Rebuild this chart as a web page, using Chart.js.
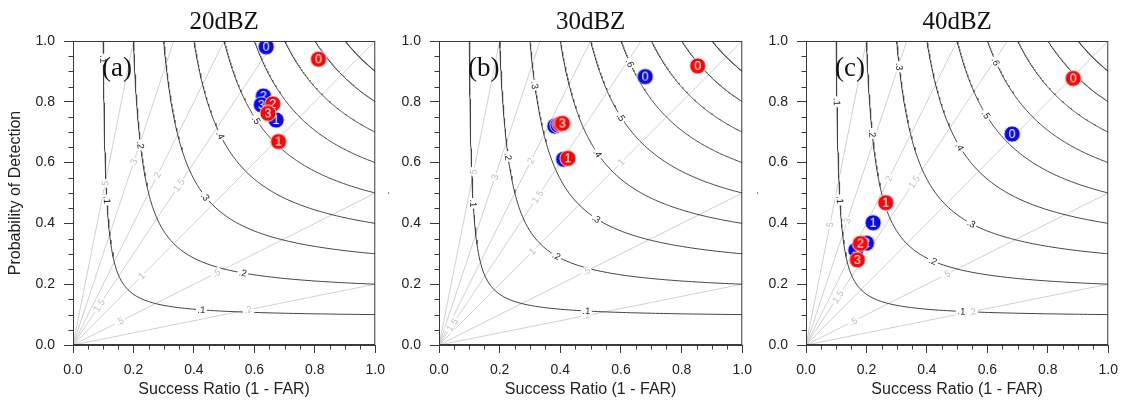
<!DOCTYPE html>
<html>
<head>
<meta charset="utf-8">
<script src="https://cdn.jsdelivr.net/npm/chart.js@4.4.1/dist/chart.umd.min.js"></script>
<style>
    html, body { margin: 0; padding: 0; background: #fff; }
    #wrap { position: relative; width: 1128px; height: 406px; overflow: hidden; }
    canvas { position: absolute; top: 0; display: block; }
</style>
</head>
<body>
<div id="wrap">
    <canvas id="chart-a" width="394" height="406" style="left:0px"></canvas>
    <canvas id="chart-b" width="385" height="406" style="left:376px"></canvas>
    <canvas id="chart-c" width="377" height="406" style="left:750px"></canvas>
</div>
<script>
// --- data ---
const panelTitles = ['20dBZ', '30dBZ', '40dBZ'];
const panelTags = ['(a)', '(b)', '(c)'];
const leadLabels = ['0', '1', '2', '3'];
const axisTicks = [0, 0.2, 0.4, 0.6, 0.8, 1.0];

// (a) 20dBZ
const blueSR_a  = [0.639, 0.672, 0.630, 0.623];
const bluePOD_a = [0.981, 0.740, 0.819, 0.790];
const redSR_a   = [0.812, 0.680, 0.661, 0.645];
const redPOD_a  = [0.940, 0.669, 0.793, 0.762];

// (b) 30dBZ
const blueSR_b  = [0.680, 0.411, 0.382, 0.392];
const bluePOD_b = [0.883, 0.611, 0.720, 0.724];
const redSR_b   = [0.853, 0.425, 0.400, 0.407];
const redPOD_b  = [0.918, 0.614, 0.727, 0.729];

// (c) 40dBZ
const blueSR_c  = [0.682, 0.222, 0.200, 0.165];
const bluePOD_c = [0.694, 0.402, 0.335, 0.312];
const redSR_c   = [0.884, 0.264, 0.180, 0.170];
const redPOD_c  = [0.877, 0.468, 0.334, 0.280];

// background isolines of the performance diagram
const csiLevels  = [0.1, 0.2, 0.3, 0.4, 0.5, 0.6, 0.7, 0.8, 0.9];
const biasLevels = [0.2, 0.5, 1, 1.5, 2, 3, 5];

// where the isoline labels sit (level, approx SR, approx POD)
const csiLabels_a  = [[0.1,0.095,0.94],[0.1,0.111,0.477],[0.2,0.221,0.658],[0.3,0.43,0.488],[0.4,0.485,0.69],[0.5,0.6,0.74],[0.2,0.562,0.23],[0.1,0.425,0.115]];
const biasLabels_a = [[5,0.106,0.532],[3,0.2,0.603],[2,0.282,0.559],[1.5,0.353,0.526],[1,0.227,0.225],[0.5,0.474,0.236],[1.5,0.087,0.13],[0.5,0.155,0.077],[0.2,0.579,0.11]];
const csiLabels_b  = [[0.1,0.113,0.466],[0.2,0.228,0.62],[0.3,0.316,0.855],[0.4,0.519,0.63],[0.5,0.596,0.75],[0.6,0.626,0.927],[0.3,0.519,0.41],[0.2,0.387,0.285],[0.1,0.486,0.12]];
const biasLabels_b = [[5,0.116,0.57],[3,0.184,0.553],[2,0.302,0.606],[1.5,0.321,0.488],[1,0.601,0.603],[1,0.308,0.307],[0.5,0.486,0.241],[0.2,0.486,0.095],[1.5,0.042,0.066]];
const csiLabels_c  = [[0.1,0.096,0.8],[0.1,0.107,0.477],[0.2,0.217,0.696],[0.3,0.305,0.916],[0.4,0.503,0.652],[0.5,0.591,0.757],[0.6,0.624,0.932],[0.3,0.547,0.4],[0.2,0.42,0.274],[0.1,0.514,0.106]];
const biasLabels_c = [[5,0.079,0.395],[3,0.14,0.409],[2,0.277,0.548],[1.5,0.36,0.537],[0.5,0.464,0.228],[1.5,0.107,0.159],[0.5,0.156,0.077],[0.2,0.55,0.106]];

const SANS = '"Liberation Sans", Arial, Helvetica, sans-serif';
const SERIF = '"Liberation Serif", "Times New Roman", serif';
const FRAME = '#3a3a3a';

// --- helpers ---
function csiPOD(c, sr) { return 1 / (1 / c - 1 / sr + 1); } // symmetric in SR/POD

function csiCurve(c) {
    const pts = [];
    const s = 2 * c / (1 + c);
    const n = 60;
    for (let i = 0; i <= n; i++) {
        const y = 1 - (1 - s) * i / n;
        pts.push({ x: csiPOD(c, y), y: y });
    }
    for (let i = 1; i <= n; i++) {
        const x = s + (1 - s) * i / n;
        pts.push({ x: x, y: csiPOD(c, x) });
    }
    return pts;
}

function biasLine(b) {
    return b > 1 ? [{ x: 0, y: 0 }, { x: 1 / b, y: 1 }] : [{ x: 0, y: 0 }, { x: 1, y: b }];
}

function levelText(v) { return String(v).replace(/^0\./, '.'); }

function makeDot(color, txt) {
    const c = document.createElement('canvas');
    c.width = 18; c.height = 18;
    const g = c.getContext('2d');
    g.beginPath();
    g.arc(9, 9, 8.1, 0, Math.PI * 2);
    g.fillStyle = color;
    g.fill();
    g.lineWidth = 0.8;
    g.strokeStyle = '#ffffff';
    g.stroke();
    g.fillStyle = '#ffffff';
    g.font = '12.5px ' + SANS;
    g.textAlign = 'center';
    g.textBaseline = 'middle';
    g.fillText(txt, 9, 9.6);
    return c;
}
const blueDots = leadLabels.map(t => makeDot('#0808e8', t));
const redDots = leadLabels.map(t => makeDot('#f40808', t));

// labels along the isolines, white box cuts the line
function drawIsoLabels(chart, list, kind, color) {
    const ctx = chart.ctx;
    const xs = chart.scales.x, ys = chart.scales.y;
    ctx.save();
    ctx.font = '9.5px ' + SANS;
    ctx.textAlign = 'center';
    ctx.textBaseline = 'middle';
    list.forEach(([lv, ax, ay]) => {
        let p1, p2;
        if (kind === 'csi') {
            if (ay > ax) { p1 = { x: csiPOD(lv, ay), y: ay }; p2 = { x: csiPOD(lv, ay + 0.01), y: ay + 0.01 }; }
            else { p1 = { x: ax, y: csiPOD(lv, ax) }; p2 = { x: ax + 0.01, y: csiPOD(lv, ax + 0.01) }; }
        } else {
            if (lv > 1) { p1 = { x: ay / lv, y: ay }; p2 = { x: (ay + 0.01) / lv, y: ay + 0.01 }; }
            else { p1 = { x: ax, y: lv * ax }; p2 = { x: ax + 0.01, y: lv * (ax + 0.01) }; }
        }
        const px = xs.getPixelForValue(p1.x), py = ys.getPixelForValue(p1.y);
        const qx = xs.getPixelForValue(p2.x), qy = ys.getPixelForValue(p2.y);
        let ang = Math.atan2(qy - py, qx - px);
        if (ang > Math.PI / 2) ang -= Math.PI;
        if (ang <= -Math.PI / 2) ang += Math.PI;
        const txt = levelText(lv);
        const w = ctx.measureText(txt).width + 3;
        ctx.save();
        ctx.translate(px, py);
        ctx.rotate(ang);
        ctx.fillStyle = '#ffffff';
        ctx.fillRect(-w / 2, -4.5, w, 9);
        ctx.fillStyle = color;
        ctx.fillText(txt, 0, 0.5);
        ctx.restore();
    });
    ctx.restore();
}

const diagramPlugin = {
    id: 'diagram',
    beforeDatasetDraw(chart, args) {
        const ds = chart.data.datasets[args.index];
        if (ds.kind !== 'blue') return;
        const o = chart.options.plugins.diagram;
        drawIsoLabels(chart, o.biasLabels, 'bias', '#bdbdbd');
        drawIsoLabels(chart, o.csiLabels, 'csi', '#222222');
    },
    afterDraw(chart) {
        const o = chart.options.plugins.diagram;
        const ctx = chart.ctx;
        const a = chart.chartArea;
        const xs = chart.scales.x, ys = chart.scales.y;
        ctx.save();
        // frame
        ctx.strokeStyle = FRAME;
        ctx.lineWidth = 1;
        ctx.strokeRect(a.left + 0.5, a.top + 0.5, a.right - a.left - 1, a.bottom - a.top - 1);
        // minor ticks every 0.05
        ctx.beginPath();
        for (let i = 1; i < 20; i++) {
            if (i % 4 === 0) continue;
            const v = i * 0.05;
            const px = Math.round(xs.getPixelForValue(v)) + 0.5;
            ctx.moveTo(px, a.bottom); ctx.lineTo(px, a.bottom + 4.5);
            const py = Math.round(ys.getPixelForValue(v)) + 0.5;
            ctx.moveTo(a.left, py); ctx.lineTo(a.left - 4.5, py);
        }
        ctx.stroke();
        // title and panel tag
        ctx.fillStyle = '#111';
        ctx.font = '25px ' + SERIF;
        ctx.textAlign = 'center';
        ctx.textBaseline = 'alphabetic';
        ctx.fillText(o.title, (a.left + a.right) / 2, 29);
        ctx.font = '27px ' + SERIF;
        ctx.textAlign = 'left';
        ctx.fillText(o.tag, a.left + 29, 76);
        ctx.restore();
    }
};

function buildPanel(canvasId, idx, yTitle, yTitleFont, yTitlePad, yAxisWidth, padRight,
                    blueSR, bluePOD, redSR, redPOD, csiLabs, biasLabs) {
    const datasets = [];
    datasets.push({
        kind: 'red', order: 0,
        data: redSR.map((v, i) => ({ x: v, y: redPOD[i] })),
        pointStyle: redDots, pointRadius: 8, showLine: false
    });
    datasets.push({
        kind: 'blue', order: 1,
        data: blueSR.map((v, i) => ({ x: v, y: bluePOD[i] })),
        pointStyle: blueDots, pointRadius: 8, showLine: false
    });
    csiLevels.forEach(c => datasets.push({
        kind: 'csi', order: 5, data: csiCurve(c), showLine: true,
        borderColor: '#444444', borderWidth: 1, pointRadius: 0, tension: 0
    }));
    biasLevels.forEach(b => datasets.push({
        kind: 'bias', order: 6, data: biasLine(b), showLine: true,
        borderColor: '#d0d0d0', borderWidth: 1, pointRadius: 0, tension: 0
    }));

    const tickFont = { family: SANS, size: 14 };
    return new Chart(document.getElementById(canvasId), {
        type: 'scatter',
        data: { datasets: datasets },
        plugins: [diagramPlugin],
        options: {
            responsive: false,
            animation: false,
            events: [],
            layout: { padding: { top: 41, right: padRight, left: 0, bottom: 0 } },
            plugins: {
                legend: { display: false },
                tooltip: { enabled: false },
                diagram: { title: panelTitles[idx], tag: panelTags[idx], csiLabels: csiLabs, biasLabels: biasLabs }
            },
            scales: {
                x: {
                    type: 'linear', min: 0, max: 1,
                    afterBuildTicks: s => { s.ticks = axisTicks.map(v => ({ value: v })); },
                    afterFit: s => { s.height = 61; },
                    ticks: { font: tickFont, color: '#222', padding: 9, maxRotation: 0, callback: v => v.toFixed(1) },
                    grid: { drawOnChartArea: false, tickLength: 8, tickColor: FRAME, color: FRAME },
                    border: { color: FRAME, width: 1 },
                    title: { display: true, text: 'Success Ratio (1 - FAR)', color: '#222',
                             font: { family: SANS, size: 16 }, padding: { top: 0, bottom: 7 } }
                },
                y: {
                    type: 'linear', min: 0, max: 1,
                    afterBuildTicks: s => { s.ticks = axisTicks.map(v => ({ value: v })); },
                    afterFit: s => { s.width = yAxisWidth; },
                    ticks: { font: tickFont, color: '#222', padding: 9, callback: v => v.toFixed(1) },
                    grid: { drawOnChartArea: false, tickLength: 9, tickColor: FRAME, color: FRAME },
                    border: { color: FRAME, width: 1 },
                    title: { display: true, text: yTitle, color: '#222',
                             font: { family: SANS, size: yTitleFont }, padding: { top: yTitlePad, bottom: 0 } }
                }
            }
        }
    });
}

buildPanel('chart-a', 0, 'Probability of Detection', 16, 6, 73, 18,
    blueSR_a, bluePOD_a, redSR_a, redPOD_a, csiLabels_a, biasLabels_a);
buildPanel('chart-b', 1, '-', 8, 7, 63, 18,
    blueSR_b, bluePOD_b, redSR_b, redPOD_b, csiLabels_b, biasLabels_b);
buildPanel('chart-c', 2, '-', 8, 2, 56, 18,
    blueSR_c, bluePOD_c, redSR_c, redPOD_c, csiLabels_c, biasLabels_c);
</script>
</body>
</html>
